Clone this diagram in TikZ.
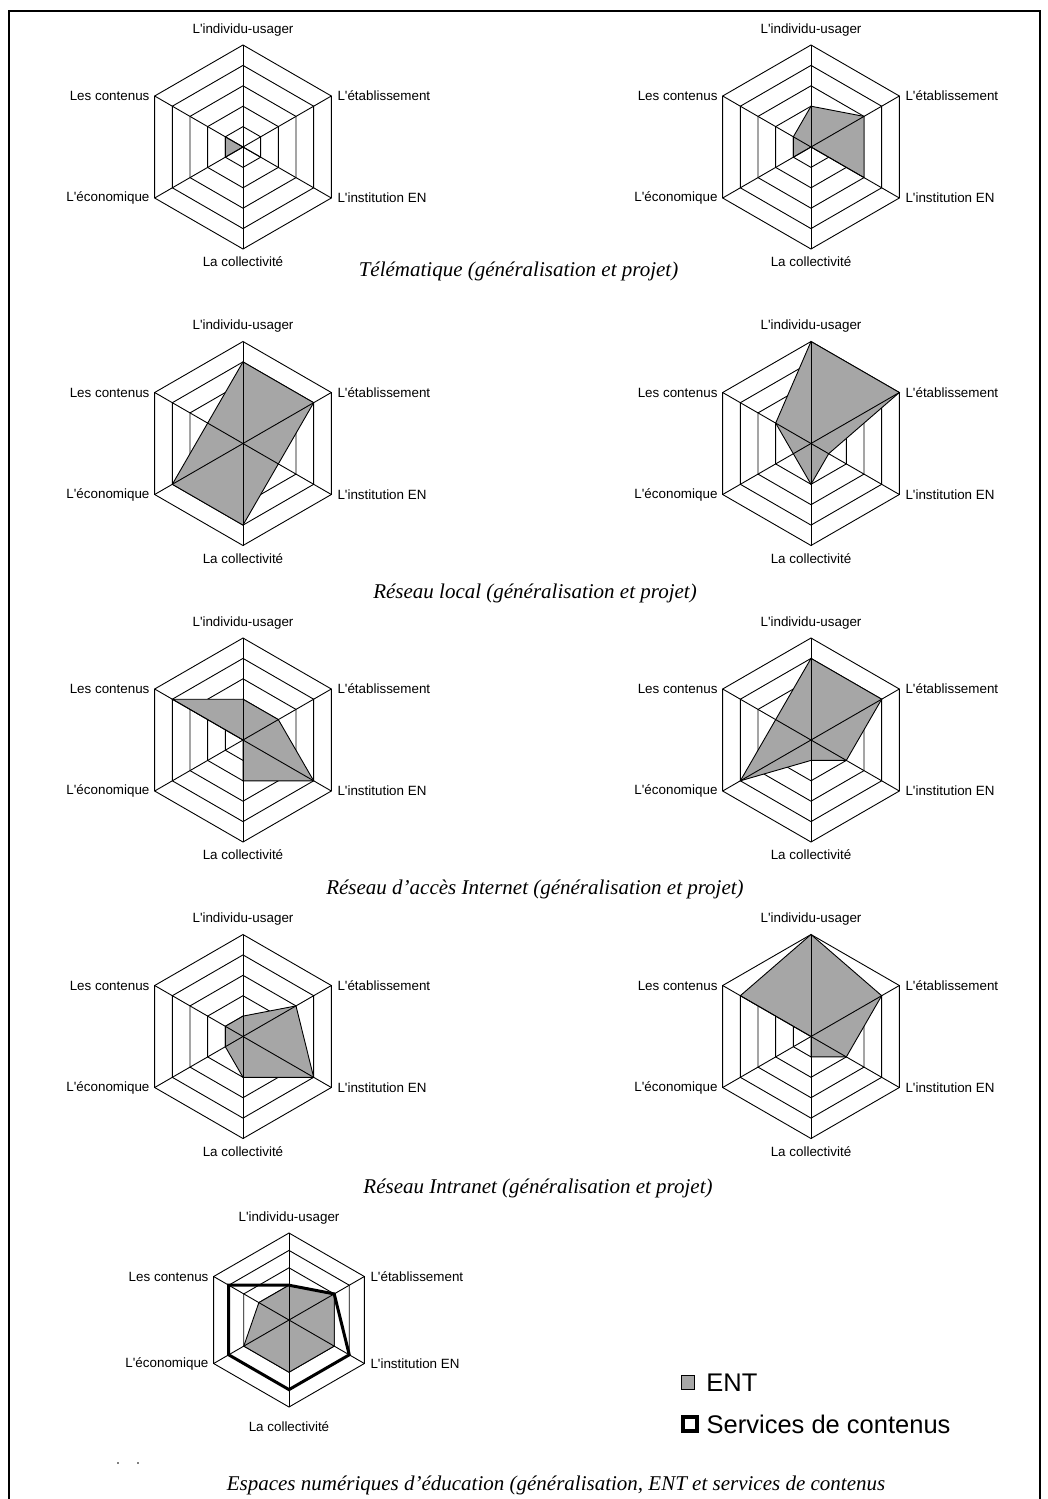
\documentclass[tikz,border=0pt]{standalone}
\usepackage{fontspec}
\setmainfont{Liberation Serif}
\newfontfamily\arialfont[Ligatures=TeXOff]{Liberation Sans}
\usetikzlibrary{positioning, calc}
\definecolor{chartgray}{RGB}{166,166,166}

\newcommand{\labelfont}{\arialfont\fontsize{13.4}{15}\selectfont}
\newcommand{\legendfont}{\arialfont\fontsize{25.5}{30}\selectfont}
\newcommand{\captionfont}{\itshape\fontsize{21}{25}\selectfont}

\tikzset{
  ringline/.style={draw=black, line width=0.9pt},
  series/.style={draw=black, fill=chartgray, line width=0.9pt},
  contline/.style={draw=black, line width=3pt, line join=miter},
  axislabel/.style={font=\labelfont, inner sep=0pt},
  caption/.style={font=\captionfont, inner sep=0pt},
  legendbox/.style={draw=black, inner sep=0pt},
  legendtext/.style={font=\legendfont, inner sep=0pt},
}

% radar chart: [gap below], name, x, y, radius, six values
\newcommand{\radar}[6][7.75]{%
  \coordinate (#2) at (#3,-#4);
  \begin{scope}[shift={(#2)}]
    % rings
    \foreach \k in {1,...,5}
      \draw[ringline] (90:{\k*#5/5}) -- (30:{\k*#5/5}) -- (-30:{\k*#5/5})
        -- (-90:{\k*#5/5}) -- (-150:{\k*#5/5}) -- (150:{\k*#5/5}) -- cycle;
    % values
    \foreach \v [count=\i] in {#6}
      \coordinate (#2-v\i) at ({150-60*\i}:{\v*#5/5});
    \draw[series] (#2-v1) -- (#2-v2) -- (#2-v3) -- (#2-v4) -- (#2-v5) -- (#2-v6) -- cycle;
    % spokes
    \foreach \a/\ax in {90/ind,30/eta,-30/ins,-90/col,-150/eco,150/con}{
      \coordinate (#2-\ax) at (\a:#5);
      \draw[ringline] (#2) -- (#2-\ax);
    }
  \end{scope}
  \node[axislabel, above=8.75pt of #2-ind] (#2-lind) {L'individu-usager};
  \node[axislabel, right=6pt of #2-eta] (#2-leta) {L'établissement};
  \node[axislabel, right=6pt of #2-ins] (#2-lins) {L'institution EN};
  \node[axislabel, below=#1pt of #2-col] (#2-lcol) {La collectivité};
  \node[axislabel, left=5pt of #2-eco] (#2-leco) {L'économique};
  \node[axislabel, left=5pt of #2-con] (#2-lcon) {Les contenus};
}

\begin{document}
\begin{tikzpicture}[x=1pt, y=1pt]
    \useasboundingbox (0,0) rectangle (1048,-1499);

    % frame
    \draw[line width=2pt] (9,-1499) -- (9,-11) -- (1040,-11) -- (1040,-1499);

    % Telematique
    \radar{tela}{243}{147}{102}{0,0,1,0,1,1}
    \radar{telb}{811}{147}{102}{2,3,3,0,1,1}
    \node[caption] (cap1) at (518.5,-271) {Télématique (généralisation et projet)};

    % Reseau local
    \radar{loca}{243}{443.5}{102}{4,4,2,4,4,2}
    \radar{locb}{811}{443.5}{102}{5,5,1,2,1,2}
    \node[caption] (cap2) at (535,-593) {Réseau local (généralisation et projet)};

    % Reseau d'acces Internet
    \radar{inta}{243}{740}{102}{2,2,4,2,0,4}
    \radar{intb}{811}{740}{102}{4,4,2,1,4,2}
    \node[caption] (cap3) at (535,-889) {Réseau d’accès Internet (généralisation et projet)};

    % Reseau Intranet
    \radar{intra}{243}{1036.5}{102}{1,3,4,2,1,1}
    \radar{intrb}{811}{1036.5}{102}{5,4,2,1,0,4}
    \node[caption] (cap4) at (538,-1188) {Réseau Intranet (généralisation et projet)};

    % Espaces numeriques: ENT and services de contenus
    \radar[14.75]{esp}{289}{1320}{87}{2,3,3,3,3,2}
    \foreach \v [count=\i] in {2,3,4,4,4,4}
      \coordinate (esp-s\i) at ($(esp)+({150-60*\i}:{\v*87/5})$);
    \draw[contline] (esp-s1) -- (esp-s2) -- (esp-s3) -- (esp-s4) -- (esp-s5) -- (esp-s6) -- cycle;
    \node[caption] (cap5) at (556,-1485) {Espaces numériques d’éducation (généralisation, ENT et services de contenus};

    % legend
    \node[legendbox, fill=chartgray, line width=1.5pt, minimum width=13pt, minimum height=14pt] (entbox) at (688,-1382.5) {};
    \node[legendtext, right=11pt of entbox] (entlab) {ENT};
    \node[legendbox, fill=white, line width=4pt, minimum size=14pt] (contbox) at (689.5,-1424) {};
    \node[legendtext, right=8pt of contbox] (contlab) {Services de contenus};

    % stray marks
    \fill (118,-1463) circle (0.8);
    \fill (138,-1463) circle (0.8);
\end{tikzpicture}
\end{document}
